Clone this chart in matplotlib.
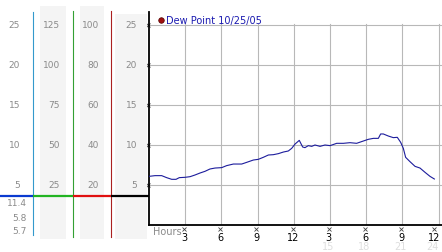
import matplotlib.pyplot as plt

# Dew point readings, hours since midnight 10/25/05
hours = [0.0, 0.5, 1.05, 1.46, 1.88, 2.24, 2.51, 2.98, 3.40, 3.81, 4.23, 4.64,
         5.05, 5.47, 6.02, 6.43, 6.99, 7.68, 8.09, 8.64, 9.06, 9.47, 9.89, 10.30,
         10.72, 11.13, 11.54, 11.82, 12.10, 12.45, 12.73, 12.92, 13.20, 13.48,
         13.75, 14.17, 14.58, 15.0, 15.55, 16.10, 16.65, 17.2, 17.76, 18.17,
         18.59, 19.0, 19.19, 19.41, 19.83, 20.24, 20.57, 20.85, 21.07, 21.26,
         21.62, 22.04, 22.45, 22.87, 23.28, 23.64]
dew_point = [6.08, 6.17, 6.17, 5.92, 5.71, 5.71, 5.92, 5.96, 6.04, 6.25, 6.5, 6.71,
             7.0, 7.12, 7.17, 7.42, 7.62, 7.62, 7.83, 8.12, 8.21, 8.46, 8.75, 8.79,
             8.92, 9.12, 9.25, 9.58, 10.12, 10.58, 9.75, 9.67, 9.92, 9.83,
             10.0, 9.83, 10.0, 9.92, 10.21, 10.21, 10.29, 10.21, 10.5, 10.71,
             10.83, 10.83, 11.38, 11.38, 11.12, 10.92, 10.96, 10.33, 9.58, 8.46,
             7.92, 7.33, 7.12, 6.58, 6.08, 5.75]

# scale columns on the left (each lines up with the dew point grid)
scale_a = [25, 20, 15, 10, 5]
scale_b = [125, 100, 75, 50, 25]
scale_c = [100, 80, 60, 40, 20]
scale_dew = [25, 20, 15, 10, 5]
stats = ["11.4", "5.8", "5.7"]  # max, current, min

hour_ticks = [3, 6, 9, 12, 15, 18, 21, 24]
hour_labels = ["3", "6", "9", "12", "3", "6", "9", "12"]
hour_labels_24 = ["15", "18", "21", "24"]

W, H = 442, 253
fig = plt.figure(figsize=(W / 100, H / 100), dpi=100)
fs = 6.5
grey = "#8a8a8a"
grid = "#b8b8b8"

# pixel helpers for layout
px_hour = 289.7 / 24
px_unit = 8.0

# main chart
ax = fig.add_axes([149 / W, 27 / H, 293 / W, 213 / H])
ax.set_xlim(0, 293 / px_hour)
ax.set_ylim(0, 213 / px_unit)
for v in scale_dew:
    ax.plot([0, 293 / px_hour], [v, v], color=grid, lw=0.8, zorder=1)
for h in hour_ticks:
    ax.plot([h, h], [0, 25.15], color=grid, lw=0.8, zorder=1)
ax.plot(hours, dew_point, color="#1c1c9c", lw=0.8, zorder=3)

for s in ["top", "right"]:
    ax.spines[s].set_visible(False)
ax.spines["left"].set_linewidth(1.3)
ax.spines["bottom"].set_linewidth(1.3)
ax.set_xticks([])
ax.set_yticks([])

# little x marks on axes, last hour label pulled in to stay on the canvas
label_x = [h - 0.1 for h in hour_ticks[:-1]] + [hour_ticks[-1] - 0.4]
ax.plot([-0.12] * len(scale_dew), scale_dew, "x", ms=2.2, mew=0.6, color="#444444", clip_on=False)
ax.plot(label_x, [-0.5] * len(hour_ticks), "x", ms=2.2, mew=0.6, color="#444444", clip_on=False)
for x, lab in zip(label_x, hour_labels):
    ax.text(x, -1.45, lab, ha="center", va="center", fontsize=fs + 0.5, color="black", clip_on=False)
for x, lab in zip(label_x[4:], hour_labels_24):
    ax.text(x - 0.1, -2.6, lab, ha="center", va="center", fontsize=fs + 0.5, color="#dedede", clip_on=False)
ax.text(0.33, -0.72, "Hours", ha="left", va="center", fontsize=fs + 0.5, color=grey, clip_on=False)

# legend entry
ax.plot([1.0], [25.66], "o", ms=4, color="#a01010", mec="#500000", mew=0.5)
ax.text(1.4, 25.66, "Dew Point 10/25/05", ha="left", va="center", fontsize=fs + 0.5, color="#1a1ab0")

# left scale panel
lp = fig.add_axes([0, 13 / H, 149 / W, 233 / H])
lp.set_xlim(0, 149)
lp.set_ylim(-1.75, 27.375)
lp.axis("off")
band = "#f4f4f4"
lp.fill_between([40, 66], -1.75, 27.375, color=band, lw=0, zorder=0)
lp.fill_between([80, 104], -1.75, 27.375, color=band, lw=0, zorder=0)
lp.fill_between([115, 147], -1.75, 26.4, color=band, lw=0, zorder=0)

lp.plot([33, 33], [-1.25, 26.625], color="#3399cc", lw=0.8)
lp.plot([72.5, 72.5], [-1.5, 26.75], color="#33a033", lw=0.8)
lp.plot([111, 111], [-1.5, 26.75], color="#aa2020", lw=0.8)

sep = 3.625
lp.plot([0, 33], [sep, sep], color="#0a3ad0", lw=1.6, solid_capstyle="butt")
lp.plot([33, 72.5], [sep, sep], color="#22b422", lw=1.6, solid_capstyle="butt")
lp.plot([72.5, 111], [sep, sep], color="#e01010", lw=1.6, solid_capstyle="butt")
lp.plot([111, 149], [sep, sep], color="black", lw=1.6, solid_capstyle="butt")

for vals, xr, div in [(scale_a, 20, 1), (scale_b, 60, 5), (scale_c, 99, 4), (scale_dew, 137, 1)]:
    for s in vals:
        lp.text(xr, s / div, str(s), ha="right", va="center", fontsize=fs, color=grey)

for lab, v in zip(stats, [2.75, 0.875, -0.75]):
    lp.text(27, v, lab, ha="right", va="center", fontsize=fs, color=grey)

fig.savefig("out.png", dpi=100)
